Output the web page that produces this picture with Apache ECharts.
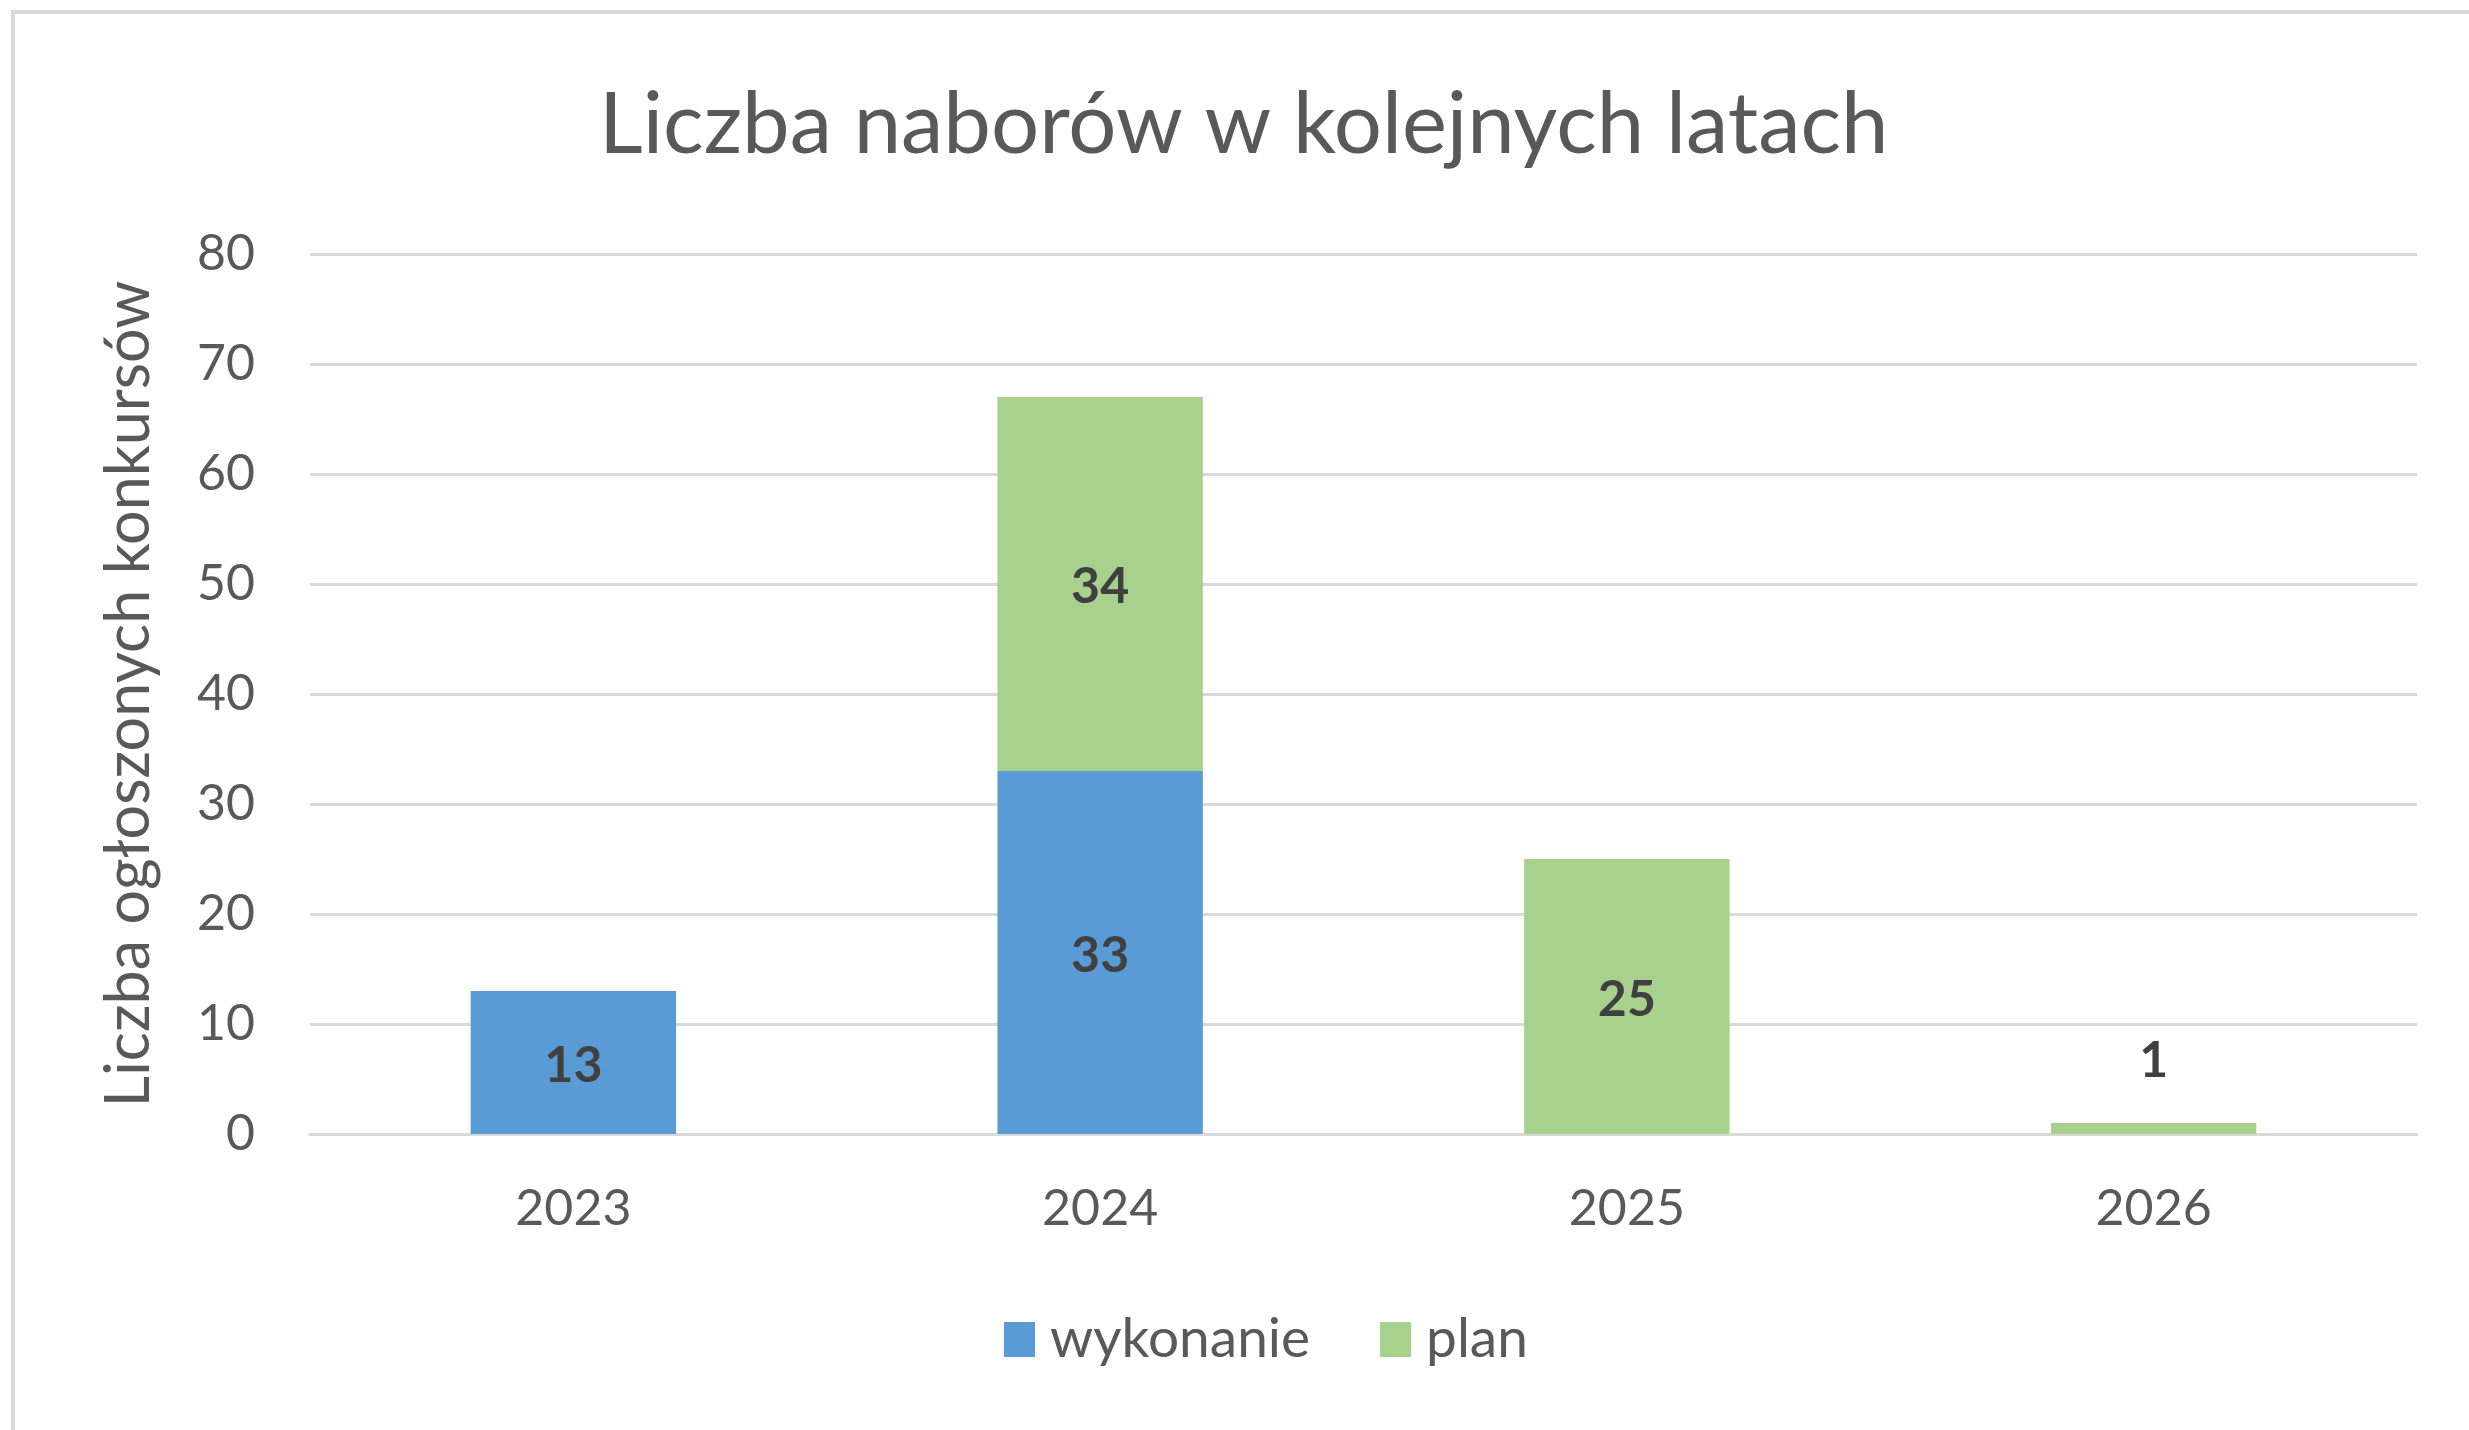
<!DOCTYPE html>
<html>
<head>
<meta charset="utf-8">
<script src="https://cdn.jsdelivr.net/npm/echarts@6/dist/echarts.min.js"></script>
<style>
  html, body { margin: 0; padding: 0; background: #fff; }
  #chart { width: 2469px; height: 1430px; }
</style>
</head>
<body>
<div id="chart"></div>
<script>
  // dane
  let years = ['2023', '2024', '2025', '2026']
  let wykonanie = [13, 33, null, null]
  let plan = [null, 34, 25, 1]
  let yTicks = [0, 10, 20, 30, 40, 50, 60, 70, 80]

  let font = 'Lato, "Open Sans", sans-serif'
  let chart = echarts.init(document.getElementById('chart'))

  let option = {
    backgroundColor: '#ffffff',
    textStyle: { fontFamily: font },
    title: {
      text: 'Liczba naborów w kolejnych latach',
      left: 594,
      top: 78,
      textStyle: { fontFamily: font, fontSize: 85, fontWeight: 'normal', color: '#595959' }
    },
    graphic: [{
      type: 'rect',
      shape: { x: 13, y: 12, width: 2600, height: 1600 },
      style: { fill: 'none', stroke: '#d9d9d9', lineWidth: 4 },
      silent: true
    }],
    legend: {
      data: ['wykonanie', 'plan'],
      bottom: 58,
      left: 999,
      itemWidth: 31,
      itemHeight: 35,
      itemGap: 70,
      icon: 'rect',
      textStyle: { fontFamily: font, fontSize: 55, color: '#595959', padding: [0, 0, 0, 10] }
    },
    grid: { left: 310, right: 52, top: 254, bottom: 296 },
    xAxis: {
      type: 'category',
      data: years,
      axisLine: { show: true, lineStyle: { color: '#d9d9d9', width: 3 } },
      axisTick: { show: false },
      axisLabel: { fontFamily: font, fontSize: 50, color: '#595959', margin: 50 }
    },
    yAxis: {
      type: 'value',
      min: yTicks[0],
      max: yTicks[yTicks.length - 1],
      interval: 10,
      name: 'Liczba ogłoszonych konkursów',
      nameLocation: 'middle',
      nameGap: 150,
      nameTextStyle: { fontFamily: font, fontSize: 61, color: '#595959' },
      axisLine: { show: false },
      axisTick: { show: false },
      splitLine: { lineStyle: { color: '#d9d9d9', width: 3 } },
      axisLabel: { fontFamily: font, fontSize: 50, color: '#595959', margin: 55 }
    },
    series: [{
      name: 'wykonanie',
      type: 'bar',
      stack: 'lata',
      barWidth: '39%',
      itemStyle: { color: '#5b9bd5' },
      label: {
        show: true, position: 'inside', offset: [0, 3],
        fontFamily: font, fontSize: 50, fontWeight: 'bold', color: '#404040'
      },
      data: wykonanie
    }, {
      name: 'plan',
      type: 'bar',
      stack: 'lata',
      barWidth: '39%',
      itemStyle: { color: '#a9d18e' },
      label: {
        show: true, position: 'inside', offset: [0, 3],
        fontFamily: font, fontSize: 50, fontWeight: 'bold', color: '#404040'
      },
      data: plan.map(function (v, i) {
        // mała wartość - etykieta nad słupkiem
        if (v !== null && v < 5) return { value: v, label: { position: 'top', distance: 40 } }
        return v
      })
    }]
  }

  chart.setOption(option)
</script>
</body>
</html>
